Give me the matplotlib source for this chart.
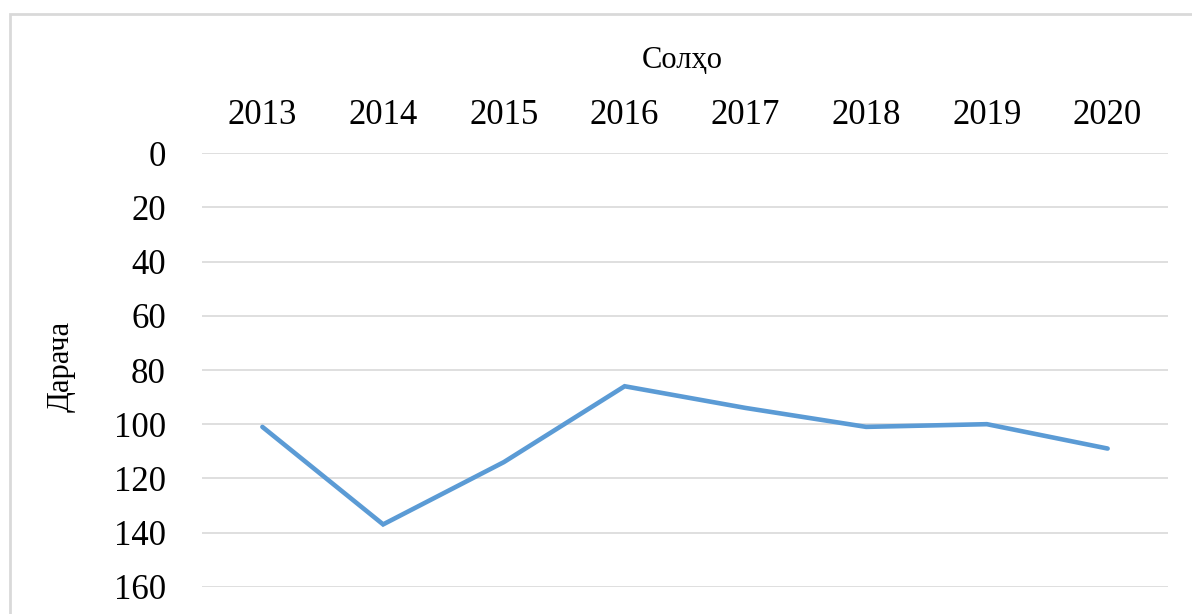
import matplotlib
matplotlib.use("Agg")
import matplotlib.pyplot as plt
from matplotlib.patches import Rectangle

years = ["2013", "2014", "2015", "2016", "2017", "2018", "2019", "2020"]
rank = [101, 137, 114, 86, 94, 101, 100, 109]
yticks = [0, 20, 40, 60, 80, 100, 120, 140, 160]

plt.rcParams['font.family'] = ['Liberation Serif', 'DejaVu Serif']

fig = plt.figure(figsize=(11.92, 6.14), dpi=100)
W, H = 1192, 614
ax = fig.add_axes([202 / W, 1 - 586.7 / H, (1168 - 202) / W, (586.7 - 153.3) / H])

x = list(range(len(years)))
ax.plot(x, rank, color="#5B9BD5", lw=3.3, solid_capstyle="round", solid_joinstyle="miter", zorder=3)

ax.set_xlim(-0.5, len(years) - 0.5)
ax.set_ylim(160, 0)
ax.set_yticks(yticks)
ax.set_yticklabels([str(v) for v in yticks], fontsize=25)
ax.set_xticks(x)
ax.set_xticklabels(years, fontsize=25)
ax.xaxis.tick_top()
ax.tick_params(axis="x", length=0, pad=15)
ax.tick_params(axis="y", length=0, pad=26)
ax.grid(axis="y", color="#D9D9D9", lw=1.2)
ax.set_axisbelow(True)
for s in ax.spines.values():
    s.set_visible(False)

fig.text(682 / W, 1 - 61 / H, "Солҳо", ha="center", va="center", fontsize=22)
fig.text(61 / W, 1 - 366 / H, "Дарача", ha="center", va="center", rotation=90, fontsize=22)

fig.patches.append(Rectangle((10 / W, -0.1), 1.2, 1.1 - 14 / H, transform=fig.transFigure,
                             fill=False, edgecolor="#D9D9D9", lw=2))

fig.savefig("out.png", dpi=100)
